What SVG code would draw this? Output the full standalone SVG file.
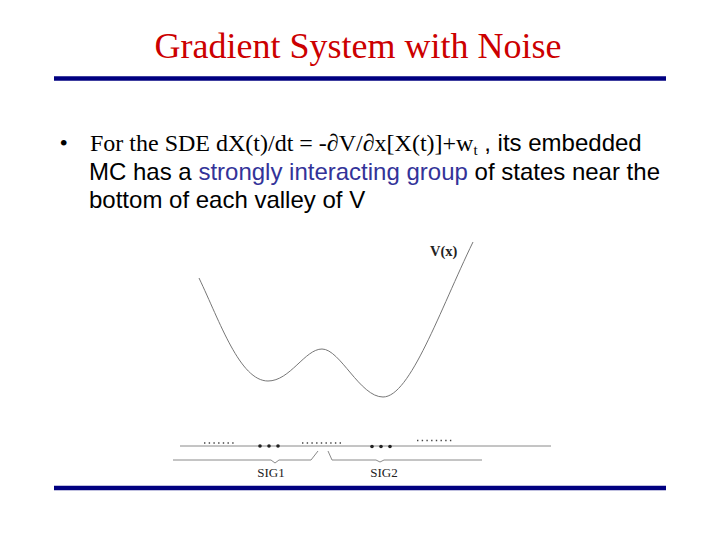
<svg xmlns="http://www.w3.org/2000/svg" width="720" height="540" viewBox="0 0 720 540">
<style>
.title{font-family:"Liberation Serif","Times New Roman",serif;font-size:36px;fill:#cc0000}
.tm{font-family:"Liberation Serif","Times New Roman",serif;font-size:24px;fill:#000}
.ar{font-family:"Liberation Sans",Arial,sans-serif;font-size:24px;fill:#000}
.hl{fill:#333399}
.rule{stroke:#000080;stroke-width:4.5}
.thin{fill:none;stroke:#8a8a8a;stroke-width:1}
.curve{fill:none;stroke:#777;stroke-width:1}
.dots{stroke:#444;stroke-width:1.6;stroke-dasharray:1.4 3.3}
.big{fill:#222}
.lab{font-family:"Liberation Serif","Times New Roman",serif;font-size:13px;fill:#222}
</style>
<rect width="720" height="540" fill="#fff"/>
<text class="title" x="358" y="58" text-anchor="middle">Gradient System with Noise</text>
<line class="rule" x1="54" y1="78.5" x2="666" y2="78.5"/>
<line class="rule" x1="54" y1="488" x2="666" y2="488"/>
<text class="tm" x="59.5" y="150.5">•</text>
<text x="90" y="150.5"><tspan class="tm">For the SDE dX(t)/dt = -∂V/∂x[X(t)]+w</tspan><tspan class="tm" style="font-size:15px" dy="4">t</tspan><tspan class="ar" dy="-4"> , its embedded</tspan></text>
<text class="ar" x="89" y="179.5">MC has a <tspan class="hl">strongly interacting group</tspan> of states near the</text>
<text class="ar" x="89" y="208">bottom of each valley of V</text>
<g id="plot">
<path class="curve" d="M199,278 C220,322 240,381 268,381 C290,381 305,349 322,349 C340,349 360,397 383,397 C410,397 440,310 473,242"/>
<text class="lab" x="430" y="256" style="font-weight:bold;font-size:14.5px">V(x)</text>
</g>
<g id="axis">
<line class="thin" x1="180" y1="446" x2="551" y2="446"/>
<path class="thin" d="M173,460 H271 L275,463 L279,460 H311 L318,451 M328,451 L332,460 H376 L380,462 L384,460 H482"/>
<line class="dots" x1="204" y1="443" x2="234" y2="443"/>
<line class="dots" x1="302" y1="443" x2="343" y2="443"/>
<line class="dots" x1="417" y1="440.5" x2="452" y2="440.5"/>
<circle class="big" cx="260" cy="446" r="1.8"/>
<circle class="big" cx="269" cy="446" r="1.8"/>
<circle class="big" cx="278" cy="446" r="1.8"/>
<circle class="big" cx="372" cy="446.5" r="1.8"/>
<circle class="big" cx="381" cy="446.5" r="1.8"/>
<circle class="big" cx="390" cy="446.5" r="1.8"/>
<text class="lab" x="271" y="477" text-anchor="middle">SIG1</text>
<text class="lab" x="384" y="477" text-anchor="middle">SIG2</text>
</g>
</svg>
